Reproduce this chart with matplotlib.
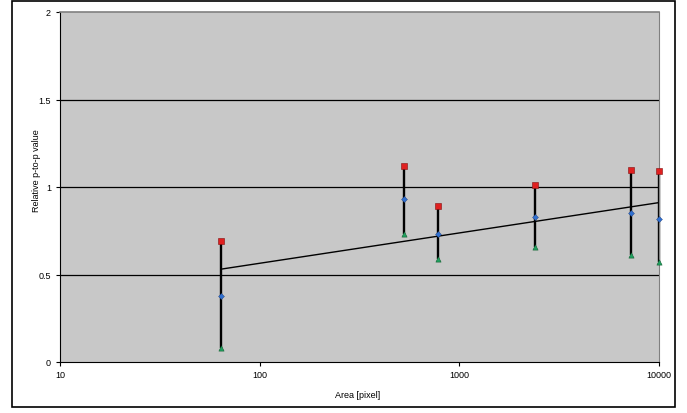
import numpy as np
import matplotlib.pyplot as plt
from matplotlib.patches import Rectangle

plt.rcParams['font.family'] = ['Liberation Sans', 'DejaVu Sans']

# --- Données ---
area = [64, 529, 784, 2401, 7225, 10000]
val_max = [0.69, 1.12, 0.89, 1.01, 1.10, 1.09]
val_mean = [0.38, 0.93, 0.73, 0.83, 0.85, 0.82]
val_min = [0.08, 0.73, 0.59, 0.66, 0.61, 0.57]

# tendance logarithmique sur la moyenne
coef = np.polyfit(np.log10(area), val_mean, 1)
x_tend = np.array([area[0], area[-1]])
y_tend = coef[0] * np.log10(x_tend) + coef[1]

fig = plt.figure(figsize=(6.87, 4.14), dpi=100)
ax = fig.add_axes([60 / 687, 1 - 363 / 414, 599 / 687, 350 / 414])

# cadre extérieur
fig.patches.append(Rectangle((12 / 687, 1 - 408 / 414), 663 / 687, 406 / 414,
                             transform=fig.transFigure, fill=False,
                             edgecolor="black", linewidth=1.2))

ax.set_facecolor("#c8c8c8")
ax.set_xscale("log")
ax.set_xlim(10, 10000)
ax.set_ylim(0, 2)

for g in [0.5, 1, 1.5]:
    ax.axhline(g, color="black", linewidth=0.9, zorder=1)

# lignes haut-bas
ax.vlines(area, val_min, val_max, color="black", linewidth=1.7, zorder=2,
          clip_on=False)
ax.plot(x_tend, y_tend, color="black", linewidth=1.0, zorder=2)

ax.scatter(area, val_max, marker="s", s=14, color="#e02020",
           edgecolor="#801010", linewidth=0.4, zorder=3, clip_on=False)
ax.scatter(area, val_mean, marker="D", s=9, color="#3070d0",
           edgecolor="#204080", linewidth=0.3, zorder=3, clip_on=False)
ax.scatter(area, val_min, marker="^", s=14, color="#20a060",
           edgecolor="#106030", linewidth=0.4, zorder=3, clip_on=False)

ax.set_xticks([10, 100, 1000, 10000])
ax.set_xticklabels(["10", "100", "1000", "10000"])
ax.xaxis.set_minor_locator(plt.NullLocator())
ax.set_yticks([0, 0.5, 1, 1.5, 2])
ax.set_yticklabels(["0", "0.5", "1", "1.5", "2"])
ax.tick_params(axis="both", labelsize=6.5, length=3, width=0.8,
               direction="out", colors="black")
ax.tick_params(axis="x", pad=3)

ax.spines["left"].set_color("black")
ax.spines["bottom"].set_color("black")
ax.spines["top"].set_color("#808080")
ax.spines["right"].set_color("#808080")
ax.spines["top"].set_linewidth(1.2)

ax.set_xlabel("Area [pixel]", fontsize=6.5)
ax.xaxis.set_label_coords(0.4975, -0.081)
ax.set_ylabel("Relative p-to-p value", fontsize=6.5)
ax.yaxis.set_label_coords(-0.032, 0.55)

fig.savefig("out.png", dpi=100)
